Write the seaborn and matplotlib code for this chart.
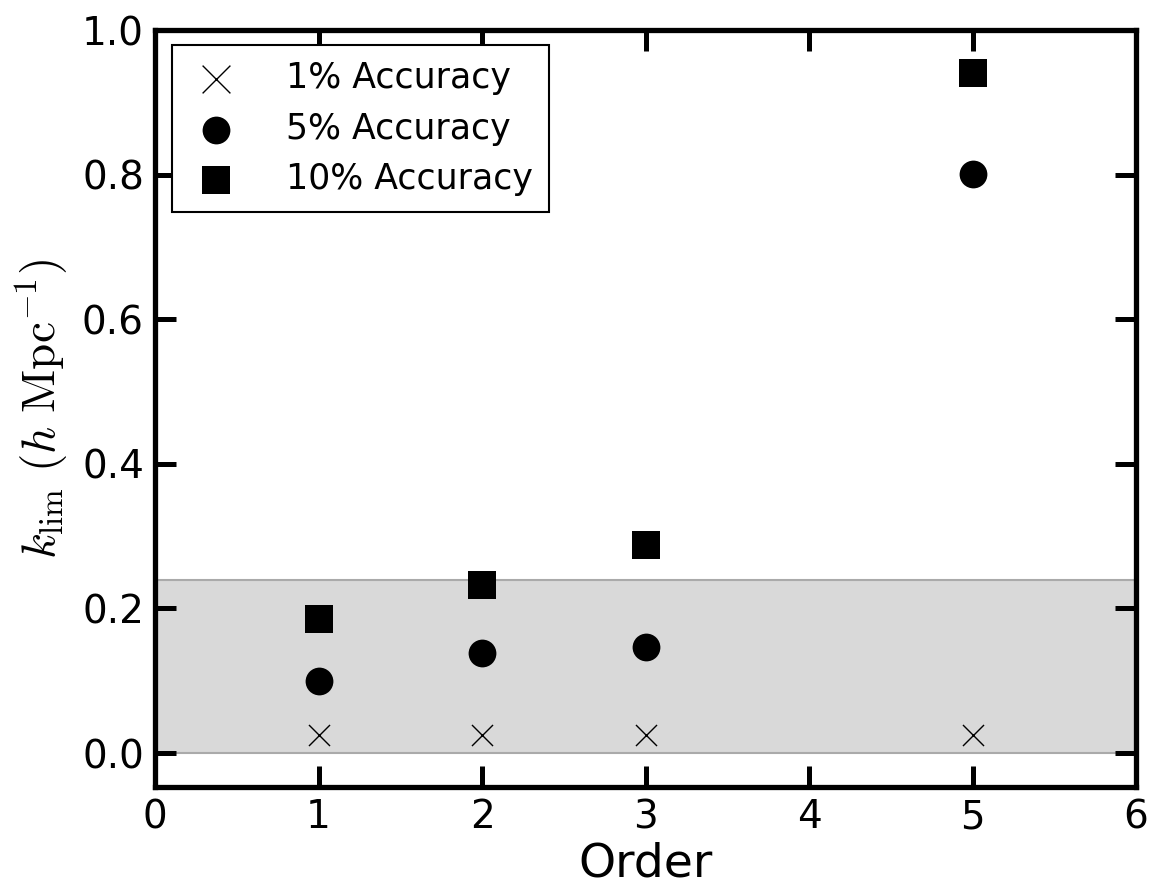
import matplotlib
matplotlib.use("Agg")
import matplotlib.pyplot as plt
import seaborn as sns
import pandas as pd

orders = [1, 2, 3, 5]
acc1 = [0.025, 0.025, 0.025, 0.025]
acc5 = [0.100, 0.138, 0.147, 0.801]
acc10 = [0.185, 0.232, 0.288, 0.940]
labels = ["1% Accuracy", "5% Accuracy", "10% Accuracy"]
shade_top = 0.239

sns.set_style("white")
plt.rcParams["font.family"] = ["DejaVu Sans"]
plt.rcParams["mathtext.fontset"] = "cm"
plt.rcParams["text.color"] = "black"
plt.rcParams["axes.labelcolor"] = "black"
plt.rcParams["xtick.color"] = "black"
plt.rcParams["ytick.color"] = "black"

fig = plt.figure(figsize=(11.63, 8.93), dpi=100)
ax = fig.add_axes([0.1333, 0.1187, 0.8435, 0.8477])

ax.axhspan(0, shade_top, facecolor="#d9d9d9", edgecolor="#aaaaaa", linewidth=1.5, zorder=0)

df1 = pd.DataFrame({"x": orders, "y": acc1})
df5 = pd.DataFrame({"x": orders, "y": acc5})
df10 = pd.DataFrame({"x": orders, "y": acc10})

sns.scatterplot(data=df1, x="x", y="y", ax=ax, marker="x", s=230, color="black",
                linewidth=1.0, label=labels[0], zorder=3)
sns.scatterplot(data=df5, x="x", y="y", ax=ax, marker="o", s=400, color="black",
                edgecolor="black", linewidth=0, label=labels[1], zorder=3)
sns.scatterplot(data=df10, x="x", y="y", ax=ax, marker="s", s=380, color="black",
                edgecolor="black", linewidth=0, label=labels[2], zorder=3)

ax.set_xlim(0, 6)
ax.set_ylim(-0.047, 1.0)
ax.set_xticks([0, 1, 2, 3, 4, 5, 6])
ax.set_yticks([0.0, 0.2, 0.4, 0.6, 0.8, 1.0])
ax.set_yticklabels(["0.0", "0.2", "0.4", "0.6", "0.8", "1.0"])
ax.tick_params(axis="both", which="major", direction="in", length=15, width=3.6,
               labelsize=28, top=True, right=True, bottom=True, left=True, pad=8,
               color="black", labelcolor="black")

for sp in ax.spines.values():
    sp.set_linewidth(3.8)
    sp.set_color("black")
    sp.set_visible(True)

ax.set_xlabel("Order", fontsize=34, labelpad=4, color="black")
ax.set_ylabel(r"$k_{\rm lim}\ (h\ {\rm Mpc}^{-1})$", fontsize=34, labelpad=8, color="black")

leg = ax.legend(loc="upper left", bbox_to_anchor=(0.0173, 0.980), borderaxespad=0,
                fontsize=25, frameon=True, fancybox=False, edgecolor="black", framealpha=1,
                handletextpad=1.2, borderpad=0.47, labelspacing=0.47, scatterpoints=1,
                handlelength=1.6)
leg.get_frame().set_linewidth(1.5)
for h, sz in zip(leg.legend_handles, [400, 400, 380]):
    h.set_sizes([sz])
for t in leg.get_texts():
    t.set_color("black")

fig.savefig("out.png", dpi=100)
